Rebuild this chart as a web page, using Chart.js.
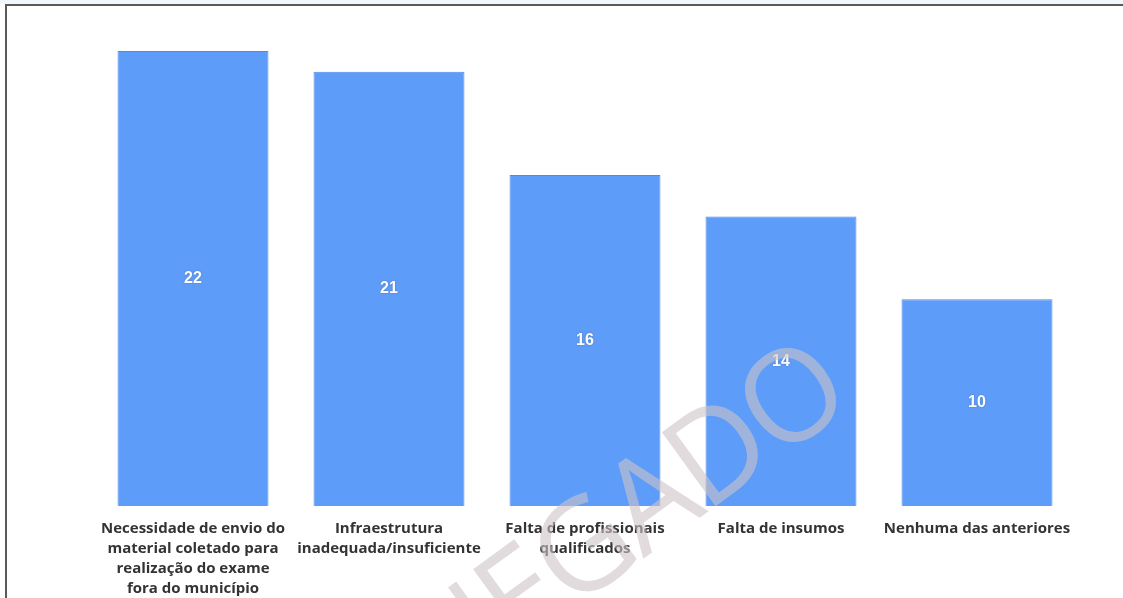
<!DOCTYPE html>
<html lang="pt">
<head>
<meta charset="utf-8">
<title>Dificuldades</title>
<script src="https://cdn.jsdelivr.net/npm/chart.js@4.4.1/dist/chart.umd.min.js"></script>
<style>
    html, body {
        margin: 0;
        padding: 0;
        background: #ffffff;
        overflow: hidden;
    }
    .page {
        position: relative;
        width: 1123px;
        height: 598px;
        overflow: hidden;
    }
    .strip {
        position: absolute;
        left: 0;
        top: 0;
        width: 1123px;
        height: 4px;
        background: #f3f8fd;
    }
    .line-top {
        position: absolute;
        left: 5px;
        top: 4px;
        width: 1200px;
        height: 2px;
        background: #5a5a5a;
    }
    .line-left {
        position: absolute;
        left: 5px;
        top: 4px;
        width: 2px;
        height: 700px;
        background: #5a5a5a;
    }
    .chart-box {
        position: absolute;
        left: 0;
        top: 0;
        width: 1123px;
        height: 598px;
    }
</style>
</head>
<body>
<div class="page">
    <div class="strip"></div>
    <div class="line-top"></div>
    <div class="line-left"></div>
    <div class="chart-box">
        <canvas id="dificuldadesChart"></canvas>
    </div>
</div>

<script>
// Categorias (rótulos quebrados em linhas) e número de respostas
const categorias = [
    ['Necessidade de envio do', 'material coletado para', 'realização do exame', 'fora do município'],
    ['Infraestrutura', 'inadequada/insuficiente'],
    ['Falta de profissionais', 'qualificados'],
    'Falta de insumos',
    'Nenhuma das anteriores'
];
const respostas = [22, 21, 16, 14, 10];

const corBarra = '#5e9cf9';
const corBorda = '#4f8ae6';

// Valor escrito no meio de cada barra
const valoresNoMeio = {
    id: 'valoresNoMeio',
    afterDatasetsDraw(chart) {
        const { ctx } = chart;
        const meta = chart.getDatasetMeta(0);
        ctx.save();
        ctx.font = 'bold 16px "Liberation Sans", Arial, sans-serif';
        ctx.textAlign = 'center';
        ctx.textBaseline = 'middle';
        ctx.shadowColor = 'rgba(60, 70, 90, 0.55)';
        ctx.shadowBlur = 1.5;
        ctx.fillStyle = '#ffffff';
        meta.data.forEach((bar, i) => {
            const meio = (bar.y + bar.base) / 2;
            ctx.fillText(String(respostas[i]), bar.x, meio);
        });
        ctx.restore();
    }
};

// Marca d'água diagonal, letra a letra, ancorada no centro do "O"
const marcaDagua = {
    id: 'marcaDagua',
    afterDraw(chart) {
        const { ctx } = chart;
        const palavra = 'NEGADO';
        const aperto = -4;
        ctx.save();
        ctx.translate(790, 394);
        ctx.rotate(-36 * Math.PI / 180);
        ctx.font = '500 128px "Open Sans", sans-serif';
        ctx.textAlign = 'center';
        ctx.textBaseline = 'alphabetic';
        ctx.fillStyle = 'rgba(205, 195, 198, 0.6)';
        const meiaAltura = ctx.measureText('O').actualBoundingBoxAscent / 2;
        let x = 0;
        for (let i = palavra.length - 1; i >= 0; i--) {
            const letra = palavra[i];
            const w = ctx.measureText(letra).width;
            if (i < palavra.length - 1) {
                const prox = ctx.measureText(palavra[i + 1]).width;
                x -= (w + prox) / 2 + aperto;
            }
            ctx.fillText(letra, x, meiaAltura);
        }
        ctx.restore();
    }
};

const ctx = document.getElementById('dificuldadesChart').getContext('2d');

new Chart(ctx, {
    type: 'bar',
    data: {
        labels: categorias,
        datasets: [{
            label: 'Respostas',
            data: respostas,
            backgroundColor: corBarra,
            borderColor: corBorda,
            borderWidth: 1,
            barPercentage: 0.77,
            categoryPercentage: 1
        }]
    },
    plugins: [valoresNoMeio, marcaDagua],
    options: {
        responsive: true,
        maintainAspectRatio: false,
        animation: false,
        layout: {
            padding: { left: 95, right: 48, top: 51, bottom: 0 }
        },
        plugins: {
            legend: { display: false },
            tooltip: { enabled: false }
        },
        scales: {
            x: {
                grid: { display: false, drawTicks: false },
                border: { display: false },
                ticks: {
                    color: '#333333',
                    padding: 13,
                    maxRotation: 0,
                    autoSkip: false,
                    font: {
                        family: '"Open Sans", sans-serif',
                        size: 15,
                        weight: '700',
                        lineHeight: 1.333
                    }
                },
                afterFit(scale) {
                    scale.height = 92;
                }
            },
            y: {
                display: false,
                min: 0,
                max: 22
            }
        }
    }
});
</script>
</body>
</html>
